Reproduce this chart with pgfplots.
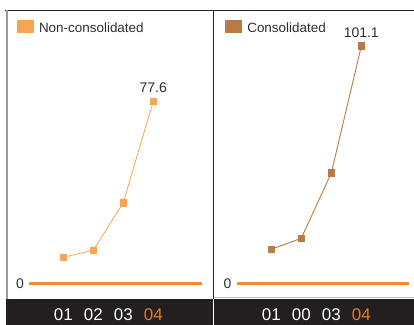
\documentclass[border=0pt]{standalone}
\usepackage{pgfplots}
\pgfplotsset{compat=1.18}
\usepackage{fontspec}
\setmainfont{Liberation Sans}

\definecolor{lightor}{HTML}{F7A455}
\definecolor{brownor}{HTML}{B97B45}
\definecolor{zeroline}{HTML}{F28A30}
\definecolor{hilite}{HTML}{EE7A22}
\definecolor{band}{HTML}{231F20}
\definecolor{framecol}{HTML}{222222}
\definecolor{txt}{HTML}{2E2E2E}
\definecolor{leftrule}{HTML}{9A9A9A}

% square swatch for the legend, level with the text beside it
\pgfplotsset{legend image code/.code={\fill[#1] (0bp,-4.7bp) rectangle (17bp,8.3bp);}}

\pgfplotsset{
  panel/.style={
    scale only axis,
    height=288.3bp,
    ymin=-6.70, ymax=116.25,
    axis line style={draw=none},
    major tick length=0pt,
    xtick={1,2,3,4},
    ytick={0},
    /pgf/number format/assume math mode=true,
    yticklabel style={font=\fontsize{14}{14}\selectfont, text=txt, anchor=center},
    xticklabel style={font=\fontsize{17}{17}\selectfont, text=white, anchor=base, yshift=-21.7bp},
    clip=false,
    legend style={draw=none, fill=none, inner sep=0pt, outer sep=0pt,
      nodes={inner sep=0pt, text=txt, font=\fontsize{13.5}{13.5}\selectfont},
      column sep=5.3bp, anchor=west},
  },
}
\tikzset{vallabel/.style={font=\fontsize{14}{14}\selectfont, text=txt, anchor=base, yshift=8.7bp}}

\begin{document}
\begin{tikzpicture}
\useasboundingbox (0,0) rectangle (414bp,325bp);

% frame and the dark band that carries the year labels
\fill[band] (6bp,0) rectangle (414bp,26bp);
\draw[framecol, line width=1.5bp] (5bp,314.3bp) -- (414bp,314.3bp);
\draw[leftrule, line width=2bp] (6.5bp,315bp) -- (6.5bp,26bp);
\draw[framecol, line width=1.3bp] (213.3bp,315bp) -- (213.3bp,26bp);
\draw[white, line width=1bp] (213.3bp,26bp) -- (213.3bp,0bp);
\draw[black!25, line width=0.7bp] (214bp,27.6bp) -- (414bp,27.6bp);

% left panel: non-consolidated
\begin{axis}[panel,
  at={(6bp,26bp)}, anchor=south west,
  width=207bp,
  xmin=-0.91, xmax=5.99,
  yticklabel style={xshift=14bp},
  xticklabels={01,02,03,\textcolor{hilite}{04}},
  legend style={at={(rel axis cs:0.0517,0.9445)}},
]
\addlegendimage{fill=lightor, draw=none}
\addlegendentry{Non-consolidated}
\addplot[zeroline, line width=2.5bp, forget plot] coordinates {(-0.133,0) (5.613,0)};
\addplot[lightor, line width=0.8bp, mark=square*, mark size=3.3bp, forget plot]
  coordinates {(1,11.1) (2,14.1) (3,34.4) (4,77.6)};
\node[vallabel] at (axis cs:4,77.6) {77.6};
\end{axis}

% right panel: consolidated
\begin{axis}[panel,
  at={(213bp,26bp)}, anchor=south west,
  width=201bp,
  xmin=-0.943, xmax=5.757,
  yticklabel style={xshift=14.5bp},
  xticklabels={01,00,03,\textcolor{hilite}{04}},
  legend style={at={(rel axis cs:0.0597,0.9445)}},
]
\addlegendimage{fill=brownor, draw=none}
\addlegendentry{Consolidated}
\addplot[zeroline, line width=2.5bp, forget plot] coordinates {(-0.143,0) (5.59,0)};
\addplot[brownor, line width=0.9bp, mark=square*, mark size=3.3bp, forget plot]
  coordinates {(1,14.5) (2,19.2) (3,47.0) (4,101.1)};
\node[vallabel] at (axis cs:4,101.1) {101.1};
\end{axis}
\end{tikzpicture}
\end{document}
